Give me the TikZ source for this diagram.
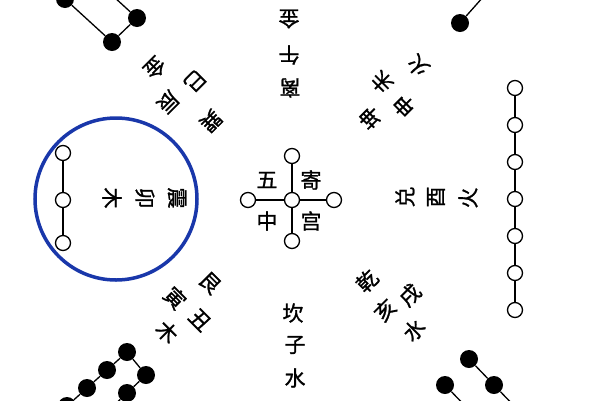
\documentclass[tikz,border=0pt]{standalone}
\usepackage{fontspec}
\newfontfamily\cjk{Noto Sans CJK SC}[FakeBold=1.2]
\definecolor{ringblue}{RGB}{25,55,170}
\tikzset{
  yang/.style={circle,draw,line width=1.3pt,fill=white,minimum size=15pt,inner sep=0pt},
  yin/.style={circle,fill=black,minimum size=18pt,inner sep=0pt},
  zi/.style={font=\cjk\fontsize{21}{21}\selectfont,inner sep=0pt},
  link/.style={line width=1.3pt},
}
\begin{document}
\begin{tikzpicture}[x=1pt,y=-1pt]
\useasboundingbox (0,0) rectangle (600,400);
% Centre: five white dots
\node[yang] (c0) at (292,200) {};
\node[yang] (c1) at (292,156) {};
\node[yang] (c2) at (292,241) {};
\node[yang] (c3) at (248,200) {};
\node[yang] (c4) at (334,200) {};
\foreach \k in {1,...,4} \draw[link] (c0) -- (c\k);
\node[zi] (wu) at (267,180) {五};
\node[zi] (ji) at (311,180) {寄};
\node[zi] (zh) at (267,221) {中};
\node[zi] (go) at (311,221) {宫};
% East (left): three white dots in the blue ring
\draw[ringblue,line width=3.5pt] (116,199) circle[radius=81];
\node[yang] (e1) at (63,153) {};
\node[yang] (e2) at (63,200) {};
\node[yang] (e3) at (63,243) {};
\draw[link] (e1) -- (e2) -- (e3);
\node[zi,rotate=-90] (zhen) at (177,198) {震};
\node[zi,rotate=-90] (mao) at (145,198) {卯};
\node[zi,rotate=-90] (mue) at (112,198) {木};
% West (right): seven white dots
\foreach \i in {1,...,7}
  \node[yang] (w\i) at (515,{88+(\i-1)*37}) {};
\foreach \i [count=\j from 2] in {1,...,6} \draw[link] (w\i) -- (w\j);
\node[zi,rotate=90] (dui) at (405,197) {兑};
\node[zi,rotate=90] (you) at (436,197) {酉};
\node[zi,rotate=90] (huow) at (468,198) {火};
% South (top) and north (bottom)
\node[zi,rotate=180] (li) at (290,88) {离};
\node[zi,rotate=180] (wuu) at (289,55) {午};
\node[zi,rotate=180] (jins) at (289,19) {金};
\node[zi] (kan) at (293,313) {坎};
\node[zi] (zi) at (295,345) {子};
\node[zi] (shui) at (295,378) {水};
% South-east (top left): four black dots
\node[yin] (a1) at (65,-1) {};
\node[yin] (a2) at (112,42) {};
\node[yin] (a3) at (137,18) {};
\node[yin] (a4) at (90,-25) {};
\draw[link] (a1) -- (a2) -- (a3) -- (a4);
\node[zi,rotate=-135] (xun) at (211,121) {巽};
\node[zi,rotate=-135] (chen) at (168,102) {辰};
\node[zi,rotate=-135] (si) at (195,81) {巳};
\node[zi,rotate=-135] (jinx) at (155,68) {金};
% South-west (top right): two black dots
\node[yin] (b1) at (460,23) {};
\node[yin] (b2) at (492,-13) {};
\draw[link] (b1) -- (b2);
\node[zi,rotate=135] (kun) at (370,118) {坤};
\node[zi,rotate=135] (wei) at (382,82) {未};
\node[zi,rotate=135] (shen) at (404,106) {申};
\node[zi,rotate=135] (huok) at (418,66) {火};
% North-east (bottom left): eight black dots
\node[yin] (p1) at (127,352) {};
\node[yin] (p2) at (107,370) {};
\node[yin] (p3) at (87,388) {};
\node[yin] (p4) at (67,406) {};
\node[yin] (q1) at (146,375) {};
\node[yin] (q2) at (127,393) {};
\node[yin] (q3) at (108,411) {};
\node[yin] (q4) at (89,429) {};
\draw[link] (p4) -- (p3) -- (p2) -- (p1) -- (q1) -- (q2) -- (q3) -- (q4);
\node[zi,rotate=-45] (gen) at (210,283) {艮};
\node[zi,rotate=-45] (yin) at (175,298) {寅};
\node[zi,rotate=-45] (chou) at (200,320) {丑};
\node[zi,rotate=-45] (mug) at (167,332) {木};
% North-west (bottom right): six black dots
\node[yin] (r1) at (469,359) {};
\node[yin] (r2) at (494,385) {};
\node[yin] (r3) at (519,411) {};
\node[yin] (s1) at (445,385) {};
\node[yin] (s2) at (470,411) {};
\node[yin] (s3) at (495,437) {};
\draw[link] (r1) -- (r2) -- (r3) -- (s3) -- (s2) -- (s1);
\node[zi,rotate=45] (qian) at (367,281) {乾};
\node[zi,rotate=45] (hai) at (385,310) {亥};
\node[zi,rotate=45] (xu) at (410,295) {戌};
\node[zi,rotate=45] (shuiq) at (414,330) {水};
\end{tikzpicture}
\end{document}
